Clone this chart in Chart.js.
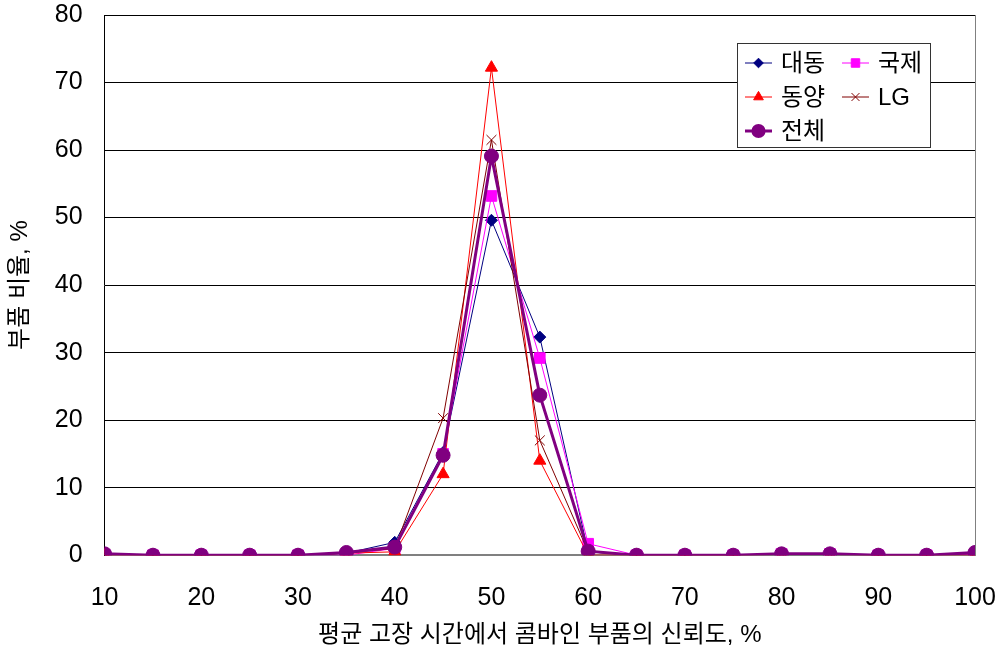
<!DOCTYPE html>
<html lang="ko">
  <head>
    <meta charset="UTF-8" />
    <title>부품 비율</title>
    <style>
      body { margin: 0; background: #fff; }
      #wrap { width: 1006px; height: 654px; position: relative; }
    </style>
  </head>
  <body>
    <div id="wrap"><canvas id="chart"></canvas></div>
    <script src="https://cdn.jsdelivr.net/npm/chart.js"></script>
    <script>
      // 신뢰도 (%) 10 ~ 100, 5 간격
      var reliability = [10, 15, 20, 25, 30, 35, 40, 45, 50, 55, 60, 65, 70, 75, 80, 85, 90, 95, 100];
      var daedong = [0.2, 0, 0, 0, 0, 0.3, 1.9, 15.2, 49.6, 32.3, 0.5, 0, 0, 0, 0.2, 0.2, 0, 0, 0.2];
      var gukje = [0.1, 0, 0, 0, 0, 0, 1.0, 15.0, 53.2, 29.2, 1.7, 0, 0, 0, 0.2, 0.2, 0, 0, 0.2];
      var dongyang = [0, 0, 0, 0, 0, 0.3, 0.5, 12.0, 72.2, 14.0, 0, 0, 0, 0, 0.1, 0.1, 0, 0, 0];
      var lg = [0.2, 0, 0, 0, 0, 0.3, 1.0, 20.3, 61.5, 17.0, 0.5, 0, 0, 0, 0.2, 0.2, 0, 0, 0.3];
      var total = [0.2, 0, 0, 0, 0, 0.4, 1.2, 14.8, 59.1, 23.7, 0.6, 0, 0, 0, 0.2, 0.2, 0, 0, 0.4];
      var yTicks = [0, 10, 20, 30, 40, 50, 60, 70, 80];

      var FONT = "'Liberation Sans', 'Noto Sans CJK KR', sans-serif";

      function pts(arr) {
        return arr.map(function (v, i) { return { x: reliability[i], y: v }; });
      }

      var series = [
        { label: "대동", data: daedong, color: "#000080", style: "rectRot", r: 6, w: 1, order: 4 },
        { label: "국제", data: gukje, color: "#FF00FF", style: "rect", r: 7.5, w: 1, order: 3 },
        { label: "동양", data: dongyang, color: "#FF0000", style: "triangle", r: 7, w: 1, order: 2 },
        { label: "LG", data: lg, color: "#800000", style: "crossRot", r: 7, w: 1, order: 1 },
        { label: "전체", data: total, color: "#800080", style: "circle", r: 7, w: 3, order: 0 }
      ];

      var datasets = series.map(function (s) {
        return {
          label: s.label,
          data: pts(s.data),
          borderColor: s.color,
          backgroundColor: s.color,
          borderWidth: s.w,
          pointStyle: s.style,
          pointRadius: s.r,
          pointBorderWidth: 1,
          pointBackgroundColor: s.color,
          pointBorderColor: s.color,
          order: s.order,
          tension: 0
        };
      });

      // 그래프 안쪽 오른쪽 위 범례
      var innerLegend = {
        id: "innerLegend",
        afterDraw: function (chart) {
          var c = chart.ctx;
          var x0 = 737, y0 = 43, w = 193, h = 104;
          c.save();
          c.fillStyle = "#fff";
          c.fillRect(x0, y0, w, h);
          c.strokeStyle = "#333";
          c.lineWidth = 1;
          c.strokeRect(x0 + 0.5, y0 + 0.5, w, h);
          var slots = [
            [0, 745, 63], [1, 842, 63],
            [2, 745, 97], [3, 842, 97],
            [4, 745, 131]
          ];
          c.font = "24px " + FONT;
          c.textBaseline = "middle";
          slots.forEach(function (s) {
            var d = series[s[0]];
            var lx = s[1], ly = s[2];
            c.strokeStyle = d.color;
            c.lineWidth = d.w;
            c.beginPath();
            c.moveTo(lx, ly);
            c.lineTo(lx + 27, ly);
            c.stroke();
            c.fillStyle = d.color;
            Chart.helpers.drawPoint(c, {
              pointStyle: d.style, radius: d.r * 0.8, rotation: 0, borderWidth: 1
            }, lx + 13.5, ly);
            c.fillStyle = "#000";
            c.fillText(d.label, lx + 36, ly + 1);
          });
          c.restore();
        }
      };

      new Chart(document.getElementById("chart"), {
        type: "line",
        data: { datasets: datasets },
        options: {
          responsive: true,
          maintainAspectRatio: false,
          animation: false,
          layout: { padding: { top: 0, right: 31, left: 6, bottom: 4 } },
          plugins: { legend: { display: false }, tooltip: { enabled: false } },
          scales: {
            x: {
              type: "linear",
              min: 10,
              max: 100,
              ticks: { stepSize: 10, color: "#000", font: { size: 25, family: FONT }, padding: 0 },
              grid: {
                color: function (ctx) { return ctx.tick && ctx.tick.value === 100 ? "#808080" : "rgba(0,0,0,0)"; },
                tickColor: "rgba(0,0,0,0)",
                tickLength: 28
              },
              border: { color: "#808080", width: 2 },
              title: {
                display: true,
                text: "평균 고장 시간에서 콤바인 부품의 신뢰도, %",
                color: "#000",
                font: { size: 24, family: FONT },
                padding: { top: 8, bottom: 0 }
              }
            },
            y: {
              min: 0,
              max: 80,
              afterBuildTicks: function (axis) {
                axis.ticks = yTicks.map(function (v) { return { value: v }; });
              },
              ticks: { color: "#000", font: { size: 25, family: FONT }, padding: 0 },
              grid: { color: "#000", tickColor: "rgba(0,0,0,0)", tickLength: 22 },
              border: { color: "#000", width: 1 },
              title: {
                display: true,
                text: "부품 비율, %",
                color: "#000",
                font: { size: 24, family: FONT },
                padding: { top: 0, bottom: 20 }
              }
            }
          }
        },
        plugins: [innerLegend]
      });
    </script>
  </body>
</html>
